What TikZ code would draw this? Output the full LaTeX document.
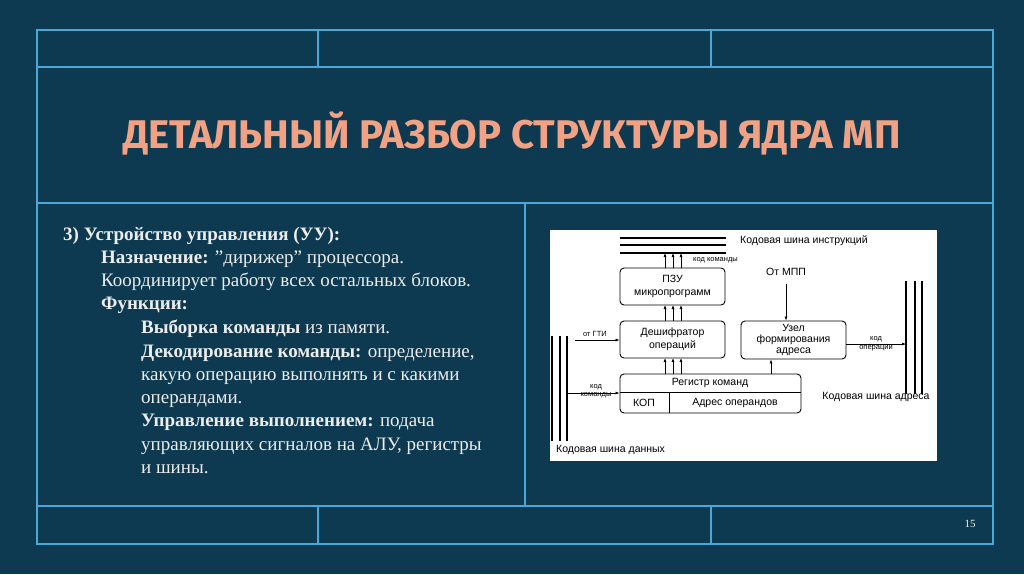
\documentclass[tikz,border=0pt]{standalone}
\usepackage{fontspec}
\setmainfont{Liberation Serif}
\newfontfamily\dsans{Liberation Sans}
\newfontfamily\tfont{Fira Sans}
\usetikzlibrary{arrows.meta}
\definecolor{bg}{HTML}{0D3A50}
\definecolor{ln}{HTML}{4AA8D8}
\definecolor{ttl}{HTML}{F2A284}
\definecolor{txt}{HTML}{EDEDED}
\tikzset{
 frame/.style={ln,line width=1.2pt},
 blk/.style={draw,rounded corners=4pt,line width=0.9pt,inner sep=0pt},
 ar/.style={-{Latex[length=4pt,width=3pt]},line width=0.6pt},
 bus/.style={line width=1.1pt},
 lbl/.style={font=\dsans\fontsize{10.5}{11}\selectfont,inner sep=0pt,align=center},
 sm/.style={font=\dsans\fontsize{7.5}{8.5}\selectfont,inner sep=0pt,align=center},
 body/.style={anchor=base west,inner sep=0pt,txt,font=\fontsize{19}{20}\selectfont}
}
\begin{document}
\begin{tikzpicture}[x=1pt,y=-1pt]
\fill[bg] (0,0) rectangle (1024,574);
\useasboundingbox (0,0) rectangle (1024,574);
\draw[frame] (37,30) rectangle (993,544);
\draw[frame] (37,67) -- (993,67) (37,203) -- (993,203) (37,506) -- (993,506);
\draw[frame] (318,30) -- (318,67) (711,30) -- (711,67) (318,506) -- (318,544) (711,506) -- (711,544) (525,203) -- (525,506);
\node[ttl,font=\tfont\bfseries\fontsize{40}{42}\selectfont] (title) at (512,133) {ДЕТАЛЬНЫЙ РАЗБОР СТРУКТУРЫ ЯДРА МП};
\node[body] (t1) at (63,240) {\textbf{3) Устройство управления (УУ):}};
\node[body] (t2) at (101,263) {\textbf{Назначение:} \symbol{"22}дирижер\symbol{"22} процессора.};
\node[body] (t3) at (101,286) {Координирует работу всех остальных блоков.};
\node[body] (t4) at (101,309) {\textbf{Функции:}};
\node[body] (t5) at (141,333) {\textbf{Выборка команды} из памяти.};
\node[body] (t6) at (141,357) {\textbf{Декодирование команды:} определение,};
\node[body] (t7) at (141,380) {какую операцию выполнять и с какими};
\node[body] (t8) at (141,403) {операндами.};
\node[body] (t9) at (141,426) {\textbf{Управление выполнением:} подача};
\node[body] (t10) at (141,450) {управляющих сигналов на АЛУ, регистры};
\node[body] (t11) at (141,473) {и шины.};
\node[txt!80,font=\fontsize{11}{12}\selectfont] (pg) at (970,524) {15};
% diagram
\fill[white] (550,230) rectangle (937,461);
\draw[bus] (620,238) -- (726,238) (620,245) -- (726,245) (620,253) -- (726,253);
\node[lbl,anchor=west] (l1) at (740,241) {Кодовая шина инструкций};
\node[blk,minimum width=105pt,minimum height=37pt,lbl] (pzu) at (672.5,286.5) {ПЗУ\\[2pt]микропрограмм};
\node[blk,minimum width=105pt,minimum height=37pt,lbl] (dec) at (672.5,339.5) {Дешифратор\\[2pt]операций};
\node[blk,minimum width=105pt,minimum height=38pt,lbl] (uzel) at (793.5,340) {Узел\\[0pt]формирования\\[0pt]адреса};
\node[blk,minimum width=181pt,minimum height=39pt] (reg) at (710.5,393.5) {};
\draw[line width=0.8pt] (620,392) -- (801,392) (669,392) -- (669,413);
\node[lbl] (regt) at (710,383) {Регистр команд};
\node[lbl] (kop) at (644,403) {КОП};
\node[lbl] (adr) at (735,403) {Адрес операндов};
\node[sm,anchor=west] (kk1) at (693,260) {код команды};
\foreach \x in {665,673,681}{
 \draw[ar] (\x,268) -- (\x,253);
 \draw[ar] (\x,321) -- (\x,305);
 \draw[ar] (\x,374) -- (\x,358);
}
\draw[ar] (771,374) -- (uzel.south -| 771,0);
\node[lbl] (mpp) at (786,272) {От МПП};
\draw[ar] (786,284) -- (uzel.north -| 786,0);
\draw[bus] (906,281) -- (906,394) (915,281) -- (915,394) (922,281) -- (922,394);
\coordinate (rb) at (906,344);
\draw[ar] (uzel.east |- rb) -- (rb);
\node[sm] (kop2) at (876,344) {код\\операции};
\node[lbl] (l2) at (876,397) {Кодовая шина адреса};
\draw[bus] (552,336) -- (552,441) (560,336) -- (560,441) (567,336) -- (567,441);
\node[lbl,anchor=west] (l3) at (556,450) {Кодовая шина данных};
\node[sm] (gti) at (595,334) {от ГТИ};
\coordinate (g0) at (575,340);
\draw[ar] (g0) -- (dec.west |- g0);
\node[sm] (kk2) at (596,391) {код\\команды};
\coordinate (k0) at (567,393);
\draw[ar] (k0) -- (reg.west |- k0);
\end{tikzpicture}
\end{document}
